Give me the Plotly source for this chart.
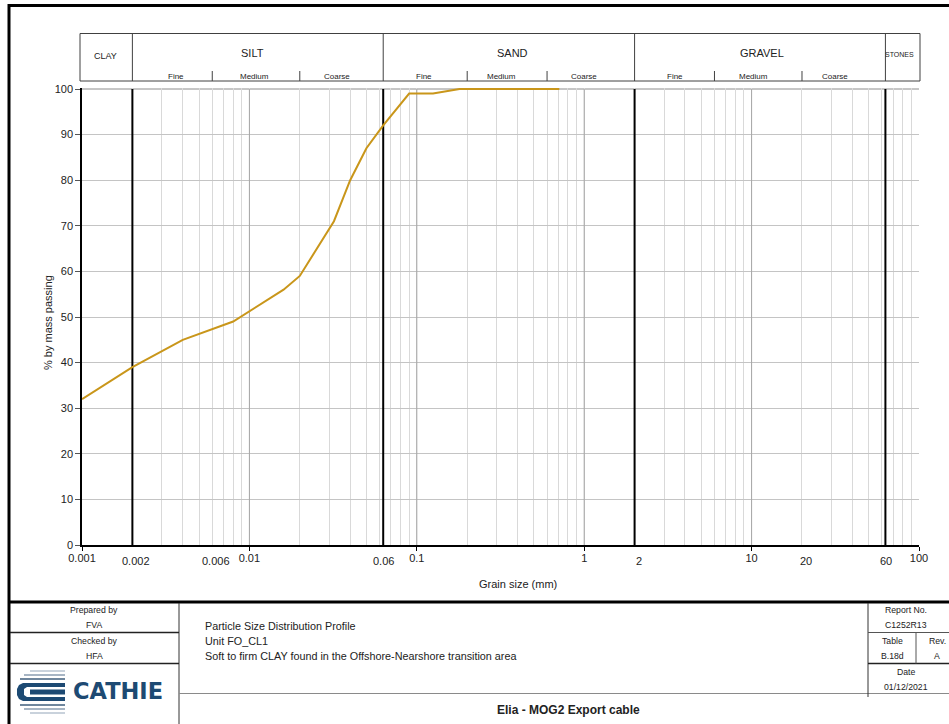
import math
import plotly.graph_objects as go

# ---------------- data ----------------
grain_size_mm = [0.001, 0.002, 0.004, 0.008, 0.016, 0.02, 0.032, 0.04, 0.05,
                 0.063, 0.09, 0.125, 0.18, 0.25, 0.355, 0.5, 0.71]
percent_passing = [32, 39, 45, 49, 56, 59, 71, 80, 87,
                   92, 99, 99, 100, 100, 100, 100, 100]

class_boundaries_mm = [0.002, 0.063, 2, 63]
sub_boundaries_mm = [0.006, 0.02, 0.2, 0.6, 6, 20]
major_tick_vals = [0.001, 0.01, 0.1, 1, 10, 100]
major_tick_text = ["0.001", "0.01", "0.1", "1", "10", "100"]
extra_tick_vals = [0.002, 0.006, 0.06, 2, 20, 60]
extra_tick_text = ["0.002", "0.006", "0.06", "2", "20", "60"]
y_tick_vals = list(range(0, 101, 10))
minor_grid_vals = [m * 10 ** e for e in range(-3, 2) for m in range(2, 10)]

class_names = ["CLAY", "SILT", "SAND", "GRAVEL", "STONES"]
class_label_px = [105, 252, 512, 762, 899]
sub_names = ["Fine", "Medium", "Coarse"] * 3
sub_label_px = [176, 254, 337, 424, 501, 584, 675, 753, 835]

FONT = "Liberation Sans, Arial, sans-serif"
LINE_COLOR = "#C9961A"

# ---------------- geometry helpers (decoration only) ----------------
L, R, T, B = 82, 919, 88, 545
W, H = R - L, B - T


def PX(x):
    return (x - L) / W


def PY(y):
    return (B - y) / H


fig = go.Figure()
fig.add_trace(go.Scatter(
    x=grain_size_mm, y=percent_passing, mode="lines",
    line=dict(color=LINE_COLOR, width=2), hoverinfo="x+y", showlegend=False))

shapes = []
annotations = []


def pline(x0, y0, x1, y1, color="#333333", width=1):
    shapes.append(dict(type="line", xref="paper", yref="paper",
                       x0=PX(x0), y0=PY(y0), x1=PX(x1), y1=PY(y1),
                       line=dict(color=color, width=width), layer="above"))


def ptext(x, y, text, size=10, color="#222222", anchor="center", bold=False, angle=0):
    annotations.append(dict(xref="paper", yref="paper", x=PX(x), y=PY(y),
                            text=("<b>%s</b>" % text) if bold else text,
                            showarrow=False, xanchor=anchor, yanchor="middle",
                            textangle=angle,
                            font=dict(family=FONT, size=size, color=color)))


# top border (100 %) darker grey
shapes.append(dict(type="line", xref="paper", yref="y", x0=0, x1=1, y0=100, y1=100,
                   line=dict(color="#8c8c8c", width=1), layer="between"))
# decade grid lines slightly darker
for v in [0.01, 0.1, 1, 10]:
    shapes.append(dict(type="line", xref="x", yref="y", x0=v, x1=v, y0=0, y1=100,
                       line=dict(color="#a6a6a6", width=1), layer="between"))
# class boundary black lines
for v in class_boundaries_mm:
    shapes.append(dict(type="line", xref="x", yref="y", x0=v, x1=v, y0=0, y1=100,
                       line=dict(color="black", width=2), layer="between"))

# ---------------- header ----------------
HT, HM, HB = 33.5, 71, 81
pline(80, HT, 920, HT, "#404040")
pline(80, HB, 920, HB, "#404040")
pline(80, HT, 80, HB, "#404040")
pline(920, HT, 920, HB, "#404040")
for v in class_boundaries_mm:
    shapes.append(dict(type="line", xref="x", yref="paper", x0=v, x1=v,
                       y0=PY(HT), y1=PY(HB), line=dict(color="#404040", width=1)))
for v in sub_boundaries_mm:
    shapes.append(dict(type="line", xref="x", yref="paper", x0=v, x1=v,
                       y0=PY(HM), y1=PY(HB), line=dict(color="#404040", width=1)))
for name, px in zip(class_names, class_label_px):
    if name == "CLAY":
        ptext(px, 56, name, size=9)
    elif name == "STONES":
        ptext(px, 54, name, size=7)
    else:
        ptext(px, 52.5, name, size=11)
for name, px in zip(sub_names, sub_label_px):
    ptext(px, 76.5, name, size=8)

# ---------------- axis labels ----------------
for v, t in zip(extra_tick_vals, extra_tick_text):
    annotations.append(dict(xref="x", yref="paper", x=math.log10(v), y=PY(561),
                            text=t, showarrow=False, xanchor="center", yanchor="middle",
                            xshift=4, font=dict(family=FONT, size=11, color="#222222")))
ptext(518, 583.5, "Grain size (mm)", size=11)
ptext(48, 323, "% by mass passing", size=11, angle=-90)

# ---------------- frame ----------------
pline(8, 5.5, 949, 5.5, "black", 3)
pline(9, 4, 9, 724, "black", 3)
pline(8, 602, 949, 602, "black", 3)

# ---------------- title block ----------------
pline(179, 603, 179, 724, "#333333", 1)
pline(10, 632.5, 179, 632.5, "#222222", 1.5)
pline(10, 663.5, 179, 663.5, "#222222", 1.5)
pline(179, 693.5, 949, 693.5, "#8a8a8a", 1)
pline(868, 603, 868, 697, "#333333", 1)
pline(868, 632.5, 949, 632.5, "#555555", 1)
pline(868, 663.5, 949, 663.5, "#222222", 1.5)
pline(916, 632.5, 916, 663.5, "#555555", 1)

ptext(94, 610, "Prepared by", size=8.7)
ptext(94, 624.5, "FVA", size=8.7)
ptext(94, 641, "Checked by", size=8.7)
ptext(94, 656, "HFA", size=8.7)

ptext(203, 626, "Particle Size Distribution Profile", size=10.8, anchor="left")
ptext(203, 641, "Unit FO_CL1", size=10.8, anchor="left")
ptext(203, 656, "Soft to firm CLAY found in the Offshore-Nearshore transition area", size=10.8, anchor="left")

ptext(906, 610, "Report No.", size=8.7)
ptext(906, 624.5, "C1252R13", size=8.7)
ptext(892, 641, "Table", size=8.7)
ptext(937, 641, "Rev.", size=8.7)
ptext(892, 656, "B.18d", size=8.7)
ptext(937, 656, "A", size=8.7)
ptext(906, 672, "Date", size=8.7)
ptext(906, 686.5, "01/12/2021", size=8.7)

ptext(568, 710, "Elia - MOG2 Export cable", size=12, bold=True)

# ---------------- logo ----------------
DARK = "#1D4A73"
for yy, x0, col in [(671, 30, "#c9d2dc"), (675, 24, "#a7b5c4"), (679, 20, "#6f869d"),
                    (705, 20, "#6f869d"), (709, 24, "#a7b5c4"), (713, 30, "#c9d2dc")]:
    pline(x0, yy, 65, yy, col, 2)


def ppath(points):
    return "M " + " L ".join("%.5f,%.5f" % (PX(a), PY(b)) for a, b in points) + " Z"


c_shape = [(65, 683), (23, 683), (19, 685), (17, 689), (17, 695), (19, 699), (23, 701),
           (65, 701), (65, 697), (27, 697), (24, 695), (24, 689), (27, 687), (65, 687)]
shapes.append(dict(type="path", xref="paper", yref="paper", path=ppath(c_shape),
                   fillcolor=DARK, line=dict(width=0), layer="above"))
shapes.append(dict(type="rect", xref="paper", yref="paper", x0=PX(30), x1=PX(65),
                   y0=PY(694.5), y1=PY(689.5), fillcolor=DARK, line=dict(width=0)))
annotations.append(dict(xref="paper", yref="paper", x=PX(71), y=PY(691), text="<b>CATHIE</b>",
                        showarrow=False, xanchor="left", yanchor="middle",
                        font=dict(family="DejaVu Sans, sans-serif", size=22.5, color=DARK)))

fig.update_layout(
    width=949, height=724,
    margin=dict(l=L, r=949 - R, t=T, b=724 - B, pad=0),
    paper_bgcolor="white", plot_bgcolor="white",
    showlegend=False,
    shapes=shapes, annotations=annotations,
    xaxis=dict(type="log", range=[-3, 2], tickvals=major_tick_vals, ticktext=major_tick_text,
               showgrid=True, gridcolor="#d9d9d9", gridwidth=1,
               minor=dict(tickvals=minor_grid_vals, showgrid=True, gridcolor="#d9d9d9",
                          gridwidth=1, ticks=""),
               ticks="outside", ticklen=4, tickcolor="black", tickwidth=1,
               ticklabelstandoff=-2,
               showline=True, linecolor="black", linewidth=1.5, zeroline=False,
               tickfont=dict(family=FONT, size=11, color="#222222"), fixedrange=True),
    yaxis=dict(range=[0, 100.22], tickvals=y_tick_vals, showgrid=True, gridcolor="#c4c4c4",
               gridwidth=1, ticks="outside", ticklen=5, tickcolor="#555555",
               showline=True, linecolor="black", linewidth=1.5, zeroline=False,
               tickfont=dict(family=FONT, size=11, color="#222222"), fixedrange=True),
)

fig.write_html("out.html", config={"displayModeBar": False},
               post_script="document.body.style.margin='0';document.body.style.overflow='hidden';")
